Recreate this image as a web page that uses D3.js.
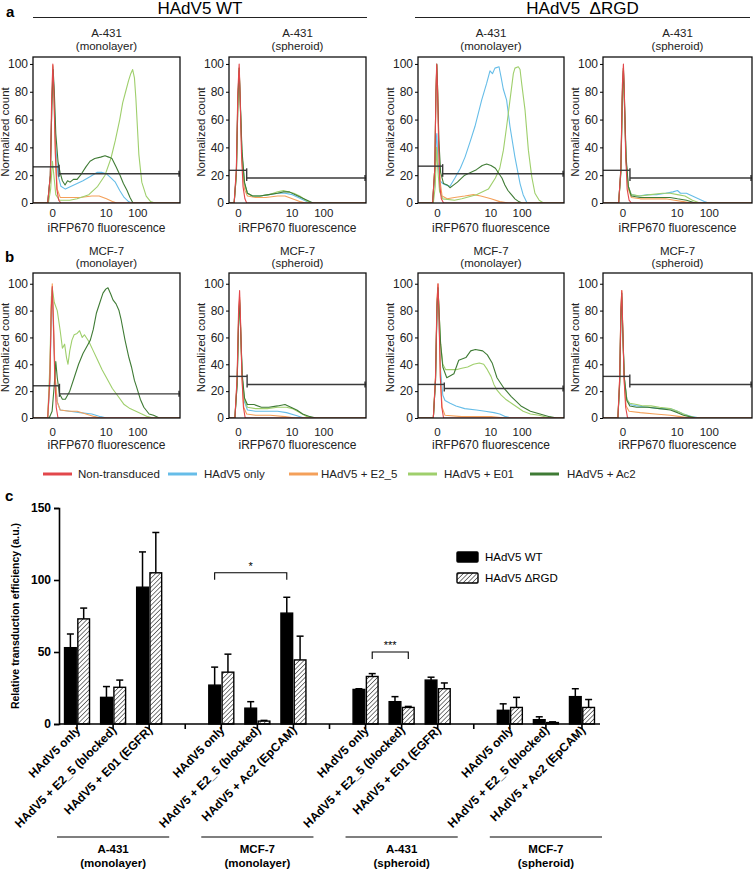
<!DOCTYPE html>
<html>
<head>
<meta charset="utf-8">
<script src="https://cdn.jsdelivr.net/npm/d3@7"></script>
<style>
  body { margin: 0; background: #fff; }
  svg { font-family: "Liberation Sans", Arial, sans-serif; }
</style>
</head>
<body>
<svg id="fig" width="755" height="870"></svg>
<script>
// ---- data: histogram legend ----
var conditions = ["Non-transduced", "HAdV5 only", "HAdV5 + E2_5", "HAdV5 + E01", "HAdV5 + Ac2"];
var condColors = ["#e2474b", "#66bde8", "#f4a05a", "#9fcf6c", "#3f7b35"];

// panel titles (row a then row b, left to right)
var cellLines = ["A-431", "A-431", "A-431", "A-431", "MCF-7", "MCF-7", "MCF-7", "MCF-7"];
var cultures = ["(monolayer)", "(spheroid)", "(monolayer)", "(spheroid)",
                "(monolayer)", "(spheroid)", "(monolayer)", "(spheroid)"];
var viruses = ["HAdV5 WT", "HAdV5  \u0394RGD"];

// x axis of the histograms is in instrument channels (0-1000), labelled at these channels
var tickChannels = [130, 495, 710];
var tickLabels = ["0", "10", "100"];
var yTicks = [0, 20, 40, 60, 80, 100];

// gates: [split channel, left gate level, right gate level]
var gates = [[177, 26, 21], [190, 23.5, 18], [169, 26.5, 21], [181, 23.5, 18],
             [180, 24, 18], [193, 31, 25], [180, 25, 22], [180, 31, 25]];

// each histogram: series in legend order [non-transduced, only, E2_5, E01, Ac2], points [channel, count]
var histA431MonoWT = [
  [[0,0],[100,0],[118,20],[127,75],[135,100],[142,80],[152,35],[162,10],[175,2],[190,0],[1000,0]],
  [[0,0],[100,0],[118,20],[128,70],[136,98],[144,75],[155,40],[170,20],[190,12],[220,10],[260,12],[300,14],[340,16],[390,19],[435,22],[470,22],[500,21],[530,18],[560,15],[590,9],[620,4],[650,1],[670,0],[1000,0]],
  [[0,0],[100,0],[118,20],[128,70],[135,99],[143,75],[153,35],[165,10],[185,4],[250,4],[320,4],[400,5],[450,5],[500,3],[540,1],[570,0],[1000,0]],
  [[0,0],[105,0],[120,10],[132,30],[142,20],[155,6],[180,2],[250,2],[300,3],[380,6],[440,12],[490,20],[530,32],[560,45],[590,60],[610,72],[630,80],[650,88],[665,93],[678,96],[690,90],[700,75],[710,55],[720,35],[740,15],[770,5],[800,1],[830,0],[1000,0]],
  [[0,0],[100,0],[118,20],[128,70],[137,96],[145,80],[155,50],[170,30],[184,22],[200,16],[218,13],[235,16],[252,15],[275,17],[300,17],[330,21],[360,26],[388,30],[420,32],[460,33],[490,34],[515,33],[537,32],[565,26],[592,20],[615,14],[640,9],[660,4],[680,0],[1000,0]]
];
var histA431SphWT = [
  [[70,0],[105,0],[120,25],[130,80],[139,100],[146,75],[155,35],[165,12],[178,3],[190,0],[1000,0]],
  [[70,0],[105,0],[120,20],[130,70],[139,95],[147,70],[158,35],[175,14],[195,7],[230,5],[280,5],[340,6],[400,7],[450,7],[500,6],[540,4],[580,2],[620,0],[1000,0]],
  [[70,0],[105,0],[120,20],[130,70],[139,97],[147,70],[158,30],[175,10],[195,5],[250,4],[320,4],[400,5],[450,5],[500,3],[550,1],[590,0],[1000,0]],
  [[70,0],[105,0],[120,20],[130,70],[139,95],[147,70],[158,35],[175,14],[195,7],[230,5],[280,5],[340,6],[400,8],[440,9],[470,8],[510,7],[550,5],[590,2],[630,0],[1000,0]],
  [[70,0],[105,0],[120,22],[130,75],[139,97],[147,72],[158,38],[175,15],[195,7],[230,5],[280,5],[340,6],[400,7],[440,8],[480,8],[520,6],[560,4],[600,2],[640,0],[1000,0]]
];
var histA431MonoRGD = [
  [[0,0],[100,0],[115,25],[123,80],[128,100],[134,80],[142,40],[150,12],[160,3],[175,0],[1000,0]],
  [[0,0],[100,0],[115,20],[124,45],[129,50],[136,30],[150,16],[170,14],[190,13],[219,12],[253,18],[290,25],[322,33],[360,45],[390,55],[436,74],[470,86],[493,95],[510,93],[527,97],[555,98],[570,90],[584,82],[607,74],[630,55],[664,33],[699,14],[720,6],[747,0],[1000,0]],
  [[0,0],[100,0],[115,25],[123,80],[129,99],[135,80],[143,40],[152,15],[165,5],[200,3],[250,4],[320,5],[380,6],[430,5],[500,3],[560,1],[620,0],[1000,0]],
  [[0,0],[105,0],[118,12],[127,40],[135,25],[148,8],[170,3],[250,2],[300,3],[400,6],[482,10],[530,18],[560,25],[585,38],[607,55],[630,74],[653,93],[664,97],[687,98],[699,96],[710,86],[733,67],[756,38],[779,19],[801,7],[830,2],[860,0],[1000,0]],
  [[0,0],[100,0],[115,25],[123,80],[129,100],[135,80],[143,45],[155,22],[175,14],[200,13],[219,11],[245,13],[270,15],[300,18],[320,20],[360,22],[400,24],[440,27],[470,28],[500,27],[530,25],[555,21],[575,18],[595,13],[616,9],[640,6],[664,3],[690,1],[712,0],[1000,0]]
];
var histA431SphRGD = [
  [[0,0],[105,0],[120,25],[130,85],[137,100],[143,80],[152,35],[162,10],[175,2],[190,0],[1000,0]],
  [[0,0],[105,0],[120,22],[130,75],[137,95],[144,70],[155,30],[170,12],[190,6],[240,5],[300,6],[360,6],[420,7],[470,8],[500,9],[520,7],[560,7],[600,5],[640,3],[680,1],[710,0],[1000,0]],
  [[0,0],[105,0],[120,22],[130,78],[137,97],[144,72],[155,30],[170,10],[190,4],[250,3],[350,3],[420,3],[480,2],[540,1],[590,0],[1000,0]],
  [[0,0],[105,0],[120,22],[130,75],[137,95],[144,70],[155,30],[170,12],[190,6],[250,5],[320,6],[400,7],[450,7],[500,6],[550,5],[600,2],[650,0],[1000,0]],
  [[0,0],[105,0],[120,24],[130,80],[137,97],[144,75],[155,33],[170,12],[190,5],[250,4],[350,4],[450,4],[500,3],[560,2],[620,0],[1000,0]]
];
var histMCF7MonoWT = [
  [[0,0],[100,0],[115,30],[124,80],[131,98],[138,75],[148,30],[158,8],[170,0],[1000,0]],
  [[0,0],[100,0],[115,25],[124,75],[131,95],[138,70],[150,30],[165,12],[185,6],[250,5],[320,4],[400,3],[460,1],[500,0],[1000,0]],
  [[0,0],[100,0],[115,30],[124,82],[131,100],[138,78],[150,32],[165,12],[185,6],[250,5],[300,5],[360,3],[420,1],[460,0],[1000,0]],
  [[0,0],[100,0],[115,40],[125,90],[131,97],[145,86],[165,80],[185,65],[200,52],[215,55],[228,45],[238,40],[250,50],[265,58],[280,62],[300,63],[317,65],[335,60],[350,62],[380,57],[410,50],[440,43],[470,36],[500,30],[540,22],[580,16],[620,10],[660,7],[700,5],[740,3],[780,1],[820,0],[1000,0]],
  [[0,0],[110,0],[130,5],[145,25],[155,42],[165,30],[180,18],[200,14],[220,14],[250,20],[280,30],[310,40],[340,48],[370,54],[390,58],[410,66],[431,78],[455,86],[476,93],[495,96],[510,97],[530,92],[544,88],[565,85],[585,80],[600,73],[626,58],[650,46],[670,38],[690,28],[705,23],[730,14],[754,8],[790,3],[820,2],[860,0],[1000,0]]
];
var histMCF7SphWT = [
  [[70,0],[110,0],[125,30],[135,80],[142,95],[149,70],[158,30],[168,8],[180,0],[1000,0]],
  [[70,0],[110,0],[125,25],[135,70],[142,86],[149,65],[160,30],[175,12],[195,6],[250,5],[330,5],[400,5],[460,4],[520,2],[580,0],[1000,0]],
  [[70,0],[110,0],[125,28],[135,75],[142,90],[149,68],[158,30],[170,8],[190,3],[250,2],[350,2],[450,1],[520,0],[1000,0]],
  [[70,0],[110,0],[125,25],[135,70],[142,86],[149,65],[160,30],[175,14],[195,8],[250,7],[330,7],[400,8],[460,8],[500,7],[550,4],[600,1],[640,0],[1000,0]],
  [[70,0],[110,0],[125,25],[135,72],[142,88],[149,66],[160,32],[175,15],[195,10],[240,10],[290,8],[340,8],[400,9],[450,10],[490,8],[530,6],[570,3],[620,1],[660,0],[1000,0]]
];
var histMCF7MonoRGD = [
  [[0,0],[105,0],[120,30],[130,85],[137,100],[144,75],[153,30],[163,8],[175,0],[1000,0]],
  [[0,0],[105,0],[120,28],[130,80],[137,97],[144,72],[155,35],[170,17],[185,13],[220,11],[260,9],[320,7],[400,6],[460,5],[520,4],[560,3],[600,1],[640,0],[1000,0]],
  [[0,0],[105,0],[120,32],[130,88],[137,100],[144,78],[153,32],[165,8],[185,2],[300,1],[500,1],[600,0],[1000,0]],
  [[0,0],[105,0],[120,28],[130,82],[137,97],[144,80],[155,55],[170,40],[190,36],[220,36],[260,36],[300,37],[340,38],[380,40],[420,41],[450,40],[475,36],[500,31],[520,25],[540,21],[570,17],[600,14],[640,11],[680,8],[720,5],[770,3],[830,2],[900,0],[1000,0]],
  [[0,0],[105,0],[120,28],[130,82],[137,97],[144,80],[155,55],[170,38],[197,30],[246,33],[279,43],[328,45],[361,50],[393,51],[443,50],[475,47],[508,41],[541,30],[590,22],[639,16],[705,9],[770,5],[836,3],[900,1],[950,0],[1000,0]]
];
var histMCF7SphRGD = [
  [[0,0],[100,0],[112,30],[120,80],[126,95],[132,70],[142,28],[152,8],[165,0],[1000,0]],
  [[0,0],[100,0],[112,25],[120,72],[126,88],[132,65],[143,30],[160,14],[180,10],[230,9],[300,8],[380,7],[450,7],[500,5],[540,3],[600,1],[650,0],[1000,0]],
  [[0,0],[100,0],[112,30],[120,80],[126,95],[132,68],[142,28],[155,9],[175,5],[250,4],[350,3],[450,2],[520,1],[580,0],[1000,0]],
  [[0,0],[100,0],[112,25],[120,75],[126,90],[132,66],[143,30],[160,14],[180,11],[226,10],[270,9],[322,9],[380,8],[452,7],[500,5],[540,3],[590,1],[630,0],[1000,0]],
  [[0,0],[100,0],[112,27],[120,78],[126,93],[132,68],[143,30],[160,13],[180,9],[226,8],[300,8],[380,7],[452,6],[500,4],[540,2],[580,1],[620,0],[1000,0]]
];
var histograms = [histA431MonoWT, histA431SphWT, histA431MonoRGD, histA431SphRGD,
                  histMCF7MonoWT, histMCF7SphWT, histMCF7MonoRGD, histMCF7SphRGD];

// ---- data: bar chart (panel c) ----
var groupCells = ["A-431", "MCF-7", "A-431", "MCF-7"];
var groupCultures = ["(monolayer)", "(monolayer)", "(spheroid)", "(spheroid)"];
var barLabels = ["HAdV5 only", "HAdV5 + E2_5 (blocked)", "HAdV5 + E01 (EGFR)",
                 "HAdV5 only", "HAdV5 + E2_5 (blocked)", "HAdV5 + Ac2 (EpCAM)",
                 "HAdV5 only", "HAdV5 + E2_5 (blocked)", "HAdV5 + E01 (EGFR)",
                 "HAdV5 only", "HAdV5 + E2_5 (blocked)", "HAdV5 + Ac2 (EpCAM)"];
var wtMean = [53, 18.5, 95, 27, 11, 77, 24, 15.5, 30.5, 9.5, 3, 19];
var wtSD   = [9.5, 7.5, 24.5, 12.5, 4.5, 11, 0.5, 3.5, 2, 4.5, 2, 5.5];
var rgdMean = [73, 25.5, 105, 36, 2, 44.5, 33, 11.5, 24.5, 11.5, 1, 11.5];
var rgdSD   = [7.5, 5, 28, 12.5, 0.5, 16.5, 2, 0.7, 4, 7, 0.5, 5.5];
var barSeries = ["HAdV5 WT", "HAdV5 \u0394RGD"];
var barTicks = [0, 50, 100, 150];
// significance: [bar index a, series a, bar index b, series b, level, label]
var signif = [[3, 0, 5, 0, 105, "*"], [6, 1, 7, 1, 50, "***"]];

// ---- layout ----
var colLeft = [33, 229, 418, 603],
    colWidth = [147, 137, 146, 149],
    colStart = [0, 70, 0, 0],
    rowTop = [57, 273],
    rowBottom = [203, 418],
    rowMax = [105, 108],
    rowTickPad = [6, 10],
    rowXTitle = [29, 31],
    rowSub = [[-20, -7.5], [-18, -6]];
var drawOrder = [1, 2, 3, 4, 0];
var ink = "#222";

var svg = d3.select("#fig");

// panel letters
svg.append("text").attr("x", 6).attr("y", 17).attr("font-size", 15).attr("font-weight", "bold").text("a");
svg.append("text").attr("x", 5).attr("y", 262).attr("font-size", 15).attr("font-weight", "bold").text("b");
svg.append("text").attr("x", 5).attr("y", 501).attr("font-size", 15).attr("font-weight", "bold").text("c");

// virus headers
[[33, 367], [415, 750]].forEach(function(r, i) {
  svg.append("text").attr("x", (r[0] + r[1]) / 2).attr("y", 14)
    .attr("text-anchor", "middle").attr("font-size", 17)
    .attr("xml:space", "preserve").style("white-space", "pre").text(viruses[i]);
  svg.append("line").attr("x1", r[0]).attr("x2", r[1]).attr("y1", 17.5).attr("y2", 17.5)
    .attr("stroke", ink).attr("stroke-width", 1.2);
});

var defs = svg.append("defs");

histograms.forEach(function(series, i) {
  var row = Math.floor(i / 4), col = i % 4;
  var left = colLeft[col], w = colWidth[col];
  var top = rowTop[row], bottom = rowBottom[row];
  var x = d3.scaleLinear().domain([colStart[col], 1000]).range([left, left + w]);
  var y = d3.scaleLinear().domain([0, rowMax[row]]).range([bottom, top]);
  var g = svg.append("g");

  defs.append("clipPath").attr("id", "clip" + i)
    .append("rect").attr("x", left).attr("y", top).attr("width", w).attr("height", bottom - top);

  var line = d3.line().x(function(d) { return x(d[0]); }).y(function(d) { return y(d[1]); });
  var curves = g.append("g").attr("clip-path", "url(#clip" + i + ")");
  drawOrder.forEach(function(k) {
    curves.append("path").datum(series[k]).attr("d", line)
      .attr("fill", "none").attr("stroke", condColors[k]).attr("stroke-width", 1.1)
      .attr("stroke-linejoin", "round");
  });

  // gates
  var gt = gates[i];
  var gl = g.append("g").attr("stroke", "#3a3a3a").attr("stroke-width", 1.4);
  gl.append("line").attr("x1", x(colStart[col])).attr("x2", x(gt[0]))
    .attr("y1", y(gt[1])).attr("y2", y(gt[1]));
  gl.append("line").attr("x1", x(gt[0])).attr("x2", x(1000))
    .attr("y1", y(gt[2])).attr("y2", y(gt[2]));
  gl.append("line").attr("x1", x(gt[0])).attr("x2", x(gt[0]))
    .attr("y1", y(gt[1]) - 2).attr("y2", y(gt[2]) + 3);
  gl.append("line").attr("x1", x(1000) - 1).attr("x2", x(1000) - 1)
    .attr("y1", y(gt[2]) - 3).attr("y2", y(gt[2]) + 3);

  // frame
  g.append("rect").attr("x", left).attr("y", top).attr("width", w).attr("height", bottom - top)
    .attr("fill", "none").attr("stroke", "#111").attr("stroke-width", 1.3);

  var ya = g.append("g").attr("transform", "translate(" + left + ",0)")
    .call(d3.axisLeft(y).tickValues(yTicks).tickSize(3).tickPadding(2));
  ya.select(".domain").remove();
  ya.selectAll("text").attr("font-size", 12).attr("font-family", "Liberation Sans, Arial, sans-serif").attr("fill", ink);

  var xa = g.append("g").attr("transform", "translate(0," + bottom + ")")
    .call(d3.axisBottom(x).tickValues(tickChannels)
      .tickFormat(function(d, j) { return tickLabels[j]; }).tickSize(0).tickPadding(rowTickPad[row]));
  xa.select(".domain").remove();
  xa.selectAll("text").attr("font-size", 11.5).attr("font-family", "Liberation Sans, Arial, sans-serif").attr("fill", ink);

  g.append("text").attr("x", left + w / 2).attr("y", bottom + rowXTitle[row])
    .attr("text-anchor", "middle").attr("font-size", 12).attr("fill", ink).text("iRFP670 fluorescence");
  g.append("text").attr("transform", "translate(" + (left - 24) + "," + ((top + bottom) / 2 + 2) + ") rotate(-90)")
    .attr("text-anchor", "middle").attr("font-size", 11.5).attr("fill", ink).text("Normalized count");
  g.append("text").attr("x", left + w / 2).attr("y", top + rowSub[row][0])
    .attr("text-anchor", "middle").attr("font-size", 11.5).attr("fill", ink).text(cellLines[i]);
  g.append("text").attr("x", left + w / 2).attr("y", top + rowSub[row][1])
    .attr("text-anchor", "middle").attr("font-size", 11.5).attr("fill", ink).text(cultures[i]);
});

// legend for histograms
var legLine = [43, 168, 289, 408, 530];
var legText = [78, 204, 321, 444, 567];
conditions.forEach(function(c, i) {
  svg.append("line").attr("x1", legLine[i]).attr("x2", legLine[i] + 29).attr("y1", 474).attr("y2", 474)
    .attr("stroke", condColors[i]).attr("stroke-width", 3);
  svg.append("text").attr("x", legText[i]).attr("y", 478).attr("font-size", 11.5)
    .attr("fill", ink).text(c);
});

// ---- panel c ----
var slots = [];
barLabels.forEach(function(l, i) {
  slots.push("s" + i);
  if (i % 3 === 2 && i < barLabels.length - 1) slots.push("gap" + i);
});
var xb = d3.scaleBand().domain(slots).range([59, 600]);
var yb = d3.scaleLinear().domain([0, 150]).range([724, 508]);
var inner = d3.scaleBand().domain(barSeries).range([-12.5, 12.5]).paddingInner(0.12);
function barX(i, s) { return xb("s" + i) + xb.bandwidth() / 2 + inner(barSeries[s]); }

var pat = defs.append("pattern").attr("id", "hatch").attr("patternUnits", "userSpaceOnUse")
  .attr("width", 3.2).attr("height", 3.2).attr("patternTransform", "rotate(45)");
pat.append("rect").attr("width", 3.2).attr("height", 3.2).attr("fill", "#fff");
pat.append("line").attr("x1", 0).attr("x2", 0).attr("y1", 0).attr("y2", 3.2)
  .attr("stroke", "#111").attr("stroke-width", 1.1);

var cg = svg.append("g");
var means = [wtMean, rgdMean], sds = [wtSD, rgdSD];
[0, 1].forEach(function(s) {
  barLabels.forEach(function(l, i) {
    var bx = barX(i, s), bw = inner.bandwidth();
    var top = yb(means[s][i] + sds[s][i]);
    cg.append("line").attr("x1", bx + bw / 2).attr("x2", bx + bw / 2)
      .attr("y1", yb(means[s][i])).attr("y2", top).attr("stroke", "#000").attr("stroke-width", 1.5);
    cg.append("line").attr("x1", bx + bw / 2 - 3.5).attr("x2", bx + bw / 2 + 3.5)
      .attr("y1", top).attr("y2", top).attr("stroke", "#000").attr("stroke-width", 1.5);
    cg.append("rect").attr("x", bx).attr("y", yb(means[s][i])).attr("width", bw)
      .attr("height", yb(0) - yb(means[s][i]))
      .attr("fill", s === 0 ? "#000" : "url(#hatch)").attr("stroke", "#000").attr("stroke-width", 1.4);
  });
});

var yAxisC = cg.append("g").attr("transform", "translate(59,0)")
  .call(d3.axisLeft(yb).tickValues(barTicks).tickSize(5).tickPadding(3));
yAxisC.select(".domain").attr("stroke-width", 1.6);
yAxisC.selectAll(".tick line").attr("stroke-width", 1.6);
yAxisC.selectAll("text").attr("font-size", 12).attr("font-weight", "bold")
  .attr("font-family", "Liberation Sans, Arial, sans-serif");

var xAxisC = cg.append("g").attr("transform", "translate(0,724)")
  .call(d3.axisBottom(xb).tickSize(5).tickFormat(""));
xAxisC.select(".domain").attr("stroke-width", 1.6).attr("d", "M59,0H600");
xAxisC.selectAll(".tick line").attr("stroke-width", 1.6);

barLabels.forEach(function(l, i) {
  var cx = xb("s" + i) + xb.bandwidth() / 2;
  cg.append("text").attr("transform", "translate(" + (cx + 4) + ",731) rotate(-45)")
    .attr("text-anchor", "end").attr("font-size", 12).attr("font-weight", "bold").text(l);
});

groupCells.forEach(function(c, k) {
  var x0 = xb("s" + (k * 3)) - 2, x1 = xb("s" + (k * 3 + 2)) + xb.bandwidth() + 2;
  cg.append("line").attr("x1", x0).attr("x2", x1).attr("y1", 837).attr("y2", 837)
    .attr("stroke", "#000").attr("stroke-width", 1.2);
  cg.append("text").attr("x", (x0 + x1) / 2).attr("y", 853).attr("text-anchor", "middle")
    .attr("font-size", 11.5).attr("font-weight", "bold").text(c);
  cg.append("text").attr("x", (x0 + x1) / 2).attr("y", 867).attr("text-anchor", "middle")
    .attr("font-size", 11.5).attr("font-weight", "bold").text(groupCultures[k]);
});

cg.append("text").attr("transform", "translate(19,616) rotate(-90)")
  .attr("text-anchor", "middle").attr("font-size", 10.5).attr("font-weight", "bold")
  .text("Relative transduction efficiency (a.u.)");

// significance brackets
signif.forEach(function(sg) {
  var xa0 = barX(sg[0], sg[1]) + inner.bandwidth() / 2;
  var xa1 = barX(sg[2], sg[3]) + inner.bandwidth() / 2;
  var yl = yb(sg[4]);
  cg.append("path").attr("d", "M" + xa0 + "," + (yl + 7) + "V" + yl + "H" + xa1 + "V" + (yl + 7))
    .attr("fill", "none").attr("stroke", "#000").attr("stroke-width", 1.1);
  cg.append("text").attr("x", (xa0 + xa1) / 2).attr("y", yl - 3).attr("text-anchor", "middle")
    .attr("font-size", 11).text(sg[5]);
});

// bar legend
barSeries.forEach(function(s, i) {
  cg.append("rect").attr("x", 457).attr("y", 552 + i * 21).attr("width", 21).attr("height", 10)
    .attr("fill", i === 0 ? "#000" : "url(#hatch)").attr("stroke", "#000").attr("stroke-width", 1.4)
    .attr("rx", 1);
  cg.append("text").attr("x", 485).attr("y", 561 + i * 21).attr("font-size", 11.5).text(s);
});
</script>
</body>
</html>
